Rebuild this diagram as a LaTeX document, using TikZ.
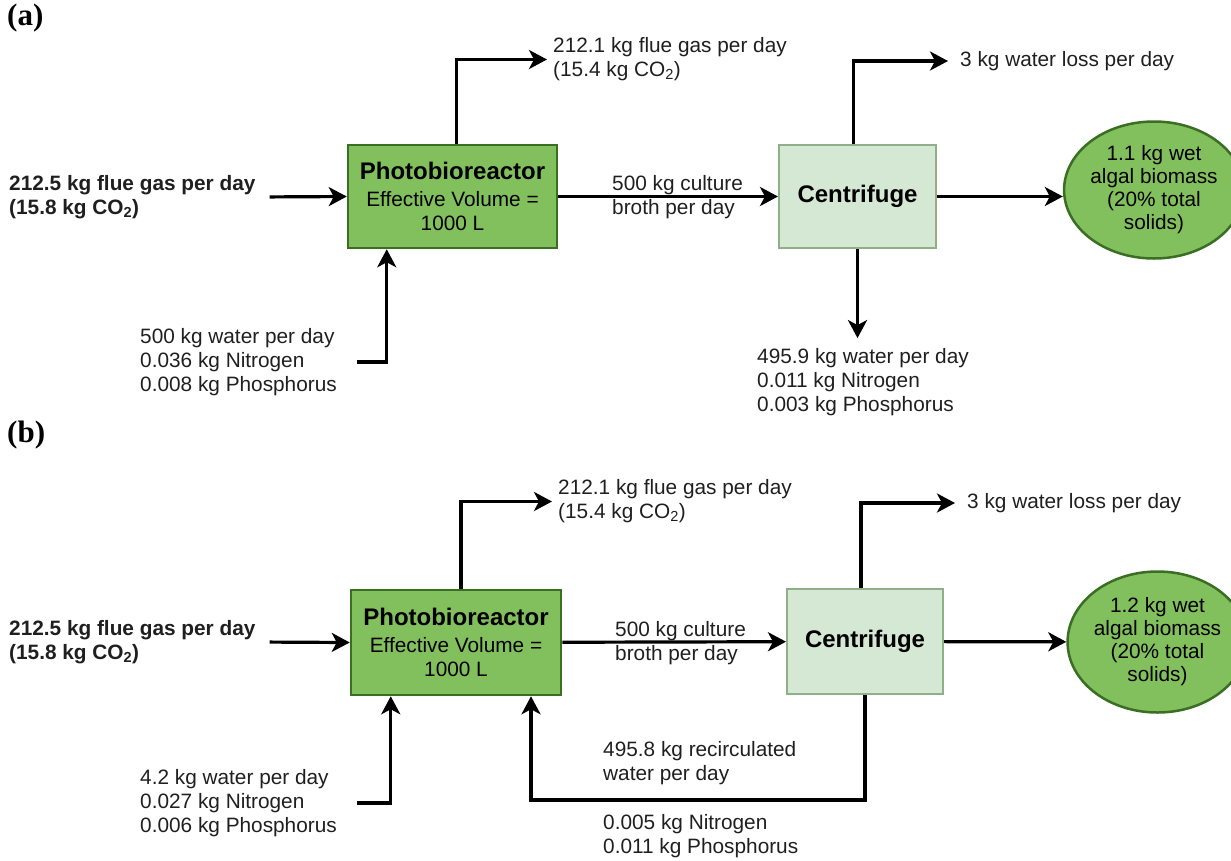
\documentclass[tikz,border=0pt]{standalone}
\usepackage{fontspec}
\setmainfont{Liberation Sans}
\newfontfamily\panelfont{Liberation Serif}
\usetikzlibrary{arrows.meta,shapes.geometric}

\definecolor{pbrgreen}{HTML}{82C05E}
\definecolor{pbrline}{HTML}{3A6E22}
\definecolor{cfgreen}{HTML}{D5E8D4}
\definecolor{cfline}{HTML}{8FAF88}

\newcommand{\bodyfont}{\fontsize{20.8}{24}\selectfont}
\newcommand{\headfont}{\fontsize{24}{27}\selectfont\bfseries}

\tikzset{
  lbl/.style={inner sep=0pt, align=left, font=\bodyfont, text=black!88},
  boldlbl/.style={lbl, font=\bodyfont\bfseries},
  panel/.style={inner sep=0pt, anchor=west, font=\panelfont\fontsize{31}{31}\selectfont\bfseries},
  pbrbox/.style={draw=pbrline, fill=pbrgreen, line width=2.5pt, minimum width=209pt,
    minimum height=103pt, align=center, font=\bodyfont},
  cfbox/.style={draw=cfline, fill=cfgreen, line width=2pt, minimum width=157pt,
    minimum height=103pt, font=\headfont},
  product/.style={ellipse, draw=pbrline, fill=pbrgreen, line width=2.5pt, align=center,
    inner sep=0pt, font=\fontsize{20.8}{23}\selectfont},
  flow/.style={-{Stealth[length=18pt,width=19pt,inset=5pt]}, line width=3.2pt},
}

\begin{document}
\begin{tikzpicture}[x=1pt,y=-1pt]
    \useasboundingbox (0,0) rectangle (1231,860);

    % (a) once-through water
    \begin{scope}
        \node[panel] (pa) at (7,18) {(a)};
        \node[boldlbl, anchor=west] (ina) at (9,197) {212.5 kg flue gas per day\\(15.8 kg CO\textsubscript{2})};
        \node[pbrbox] (pbra) at (452.5,196.5) {{\headfont Photobioreactor}\\[3pt]Effective Volume =\\1000 L};
        \node[cfbox] (cfa) at (857.5,196.5) {Centrifuge};
        \node[product, minimum width=155pt, minimum height=137pt] (bma) at (1154,190) {1.1 kg wet\\algal biomass\\(20\% total\\solids)};
        \node[lbl, anchor=west] (fga) at (553,59.5) {212.1 kg flue gas per day\\(15.4 kg CO\textsubscript{2})};
        \node[lbl, anchor=west] (wla) at (960,61) {3 kg water loss per day};
        \node[lbl, anchor=west] (cba) at (612,197) {500 kg culture\\broth per day};
        \node[lbl, anchor=west] (wina) at (140,362) {500 kg water per day\\0.036 kg Nitrogen\\0.008 kg Phosphorus};
        \node[lbl, anchor=west] (wouta) at (757,382) {495.9 kg water per day\\0.011 kg Nitrogen\\0.003 kg Phosphorus};
    \end{scope}

    \begin{scope}
    \draw[flow, shorten <=14pt] (ina.east) -- (pbra.west);
    \draw[flow] (pbra) -- (cfa);
    \draw[flow] (cfa.east) -- (cfa.east -| bma.west);
    \draw[flow, shorten >=6pt] ([xshift=4pt]pbra.north) |- (fga.west);
    \draw[flow, shorten >=12pt] ([xshift=-4pt]cfa.north) |- (wla.west);
    \draw[flow, shorten >=10pt] (cfa.south) -- (cfa.south |- wouta.north);
    \draw[flow, shorten <=20pt] (wina.east) -| ([xshift=40pt]pbra.south west);
    \end{scope}

    % (b) recirculated water
    \begin{scope}
        \node[panel] (pb) at (7,435) {(b)};
        \node[boldlbl, anchor=west] (inb) at (9,642) {212.5 kg flue gas per day\\(15.8 kg CO\textsubscript{2})};
        \node[pbrbox, minimum width=210pt, minimum height=105pt] (pbrb) at (456,642.5) {{\headfont Photobioreactor}\\[3pt]Effective Volume =\\1000 L};
        \node[cfbox, minimum width=156pt, minimum height=105pt] (cfb) at (865,641.5) {Centrifuge};
        \node[product, minimum width=141pt, minimum height=141pt] (bmb) at (1157.5,642) {1.2 kg wet\\algal biomass\\(20\% total\\solids)};
        \node[lbl, anchor=west] (fgb) at (558,501.5) {212.1 kg flue gas per day\\(15.4 kg CO\textsubscript{2})};
        \node[lbl, anchor=west] (wlb) at (967,503) {3 kg water loss per day};
        \node[lbl, anchor=west] (cbb) at (615,643.5) {500 kg culture\\broth per day};
        \node[lbl, anchor=west] (winb) at (140,803) {4.2 kg water per day\\0.027 kg Nitrogen\\0.006 kg Phosphorus};
        \node[lbl, anchor=west] (rcb) at (603,763.5) {495.8 kg recirculated\\water per day};
        \node[lbl, anchor=west] (nutb) at (603,836) {0.005 kg Nitrogen\\0.011 kg Phosphorus};
        \coordinate (loopb) at (531,800);
    \end{scope}

    \begin{scope}
    \draw[flow, shorten <=14pt] (inb.east) -- (pbrb.west);
    \draw[flow] (pbrb) -- (cfb);
    \draw[flow] (cfb) -- (bmb);
    \draw[flow, shorten >=6pt] ([xshift=5pt]pbrb.north) |- (fgb.west);
    \draw[flow, shorten >=12pt] ([xshift=-4pt]cfb.north) |- (wlb.west);
    \draw[flow, shorten <=20pt] (winb.east) -| ([xshift=41pt]pbrb.south west);
    \draw[flow] (cfb.south) |- (loopb) -- (loopb |- pbrb.south);
    \end{scope}

\end{tikzpicture}
\end{document}
